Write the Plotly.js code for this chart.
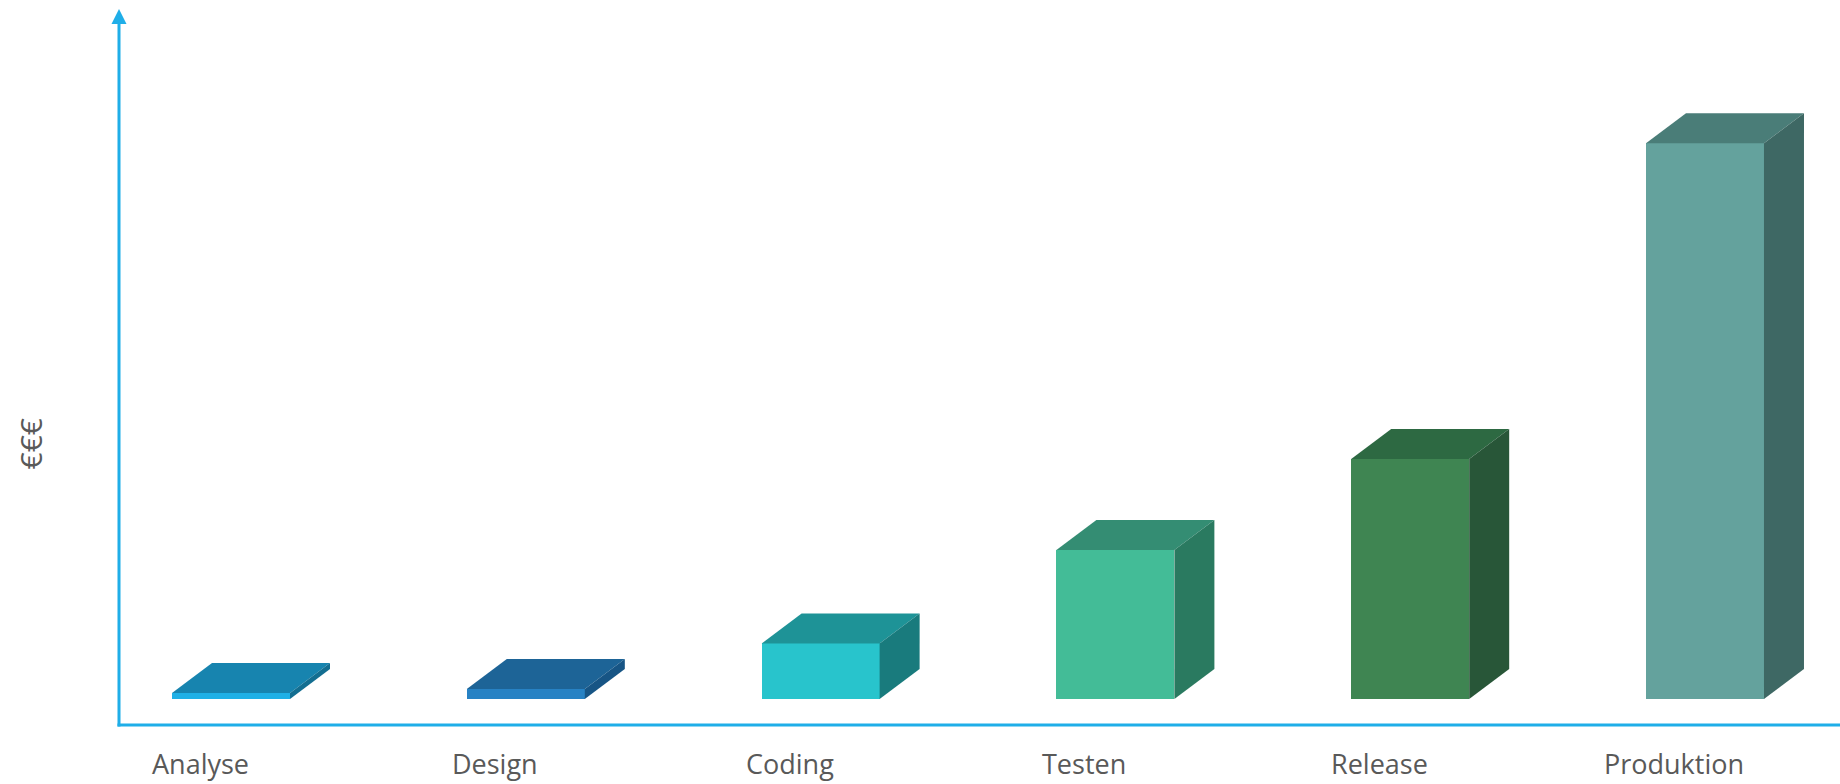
<!DOCTYPE html>
<html>
<head>
<meta charset="utf-8">
<script src="https://cdn.plot.ly/plotly-3.0.1.min.js"></script>
<style>
html,body{margin:0;padding:0;background:#fff;}
#chart{width:1840px;height:784px;}
</style>
</head>
<body>
<div id="chart"></div>
<script>
// ---- data ----
const categories = ['Analyse', 'Design', 'Coding', 'Testen', 'Release', 'Produktion'];
const values = [1.1, 1.8, 10, 26.8, 43.2, 100];
const frontColors = ['#1FB0E6', '#2782C4', '#28C4CC', '#43BC97', '#3F8552', '#64A29D'];
const topColors   = ['#1784AF', '#1D6497', '#1E9397', '#348D73', '#2D6942', '#4A7D78'];
const sideColors  = ['#136E91', '#175585', '#197B7D', '#2A7A60', '#285638', '#3E6864'];
const yTitle = '€€€';

// ---- layout geometry ----
const W = 1840, H = 784;
const M = {l: 119, r: 0, t: 9, b: 59};
const plotW = W - M.l - M.r, plotH = H - M.t - M.b;
const xRange = [-0.38, 5.458];
const yRange = [-4.68, 124.17];
const pxPerX = plotW / (xRange[1] - xRange[0]);
const pxPerY = plotH / (yRange[1] - yRange[0]);
const barW = 118 / pxPerX;
const dx = 40 / pxPerX;   // depth offset (40px right)
const dy = 30 / pxPerY;   // depth offset (30px up)
const axisColor = '#1FAEE8';
const textColor = '#595959';

const xs = categories.map((c, i) => i);

const traces = [];
// front faces as bars
traces.push({
  type: 'bar', x: xs, y: values, base: 0, width: barW,
  marker: {color: frontColors, line: {width: 0}},
  hoverinfo: 'skip', showlegend: false
});
// top & side faces
values.forEach((v, i) => {
  const x0 = xs[i] - barW / 2, x1 = xs[i] + barW / 2;
  traces.push({
    type: 'scatter', mode: 'lines', fill: 'toself',
    x: [x0, x1, x1 + dx, x0 + dx, x0],
    y: [v, v, v + dy, v + dy, v],
    fillcolor: topColors[i], line: {width: 0, color: topColors[i]},
    hoverinfo: 'skip', showlegend: false
  });
  traces.push({
    type: 'scatter', mode: 'lines', fill: 'toself',
    x: [x1, x1 + dx, x1 + dx, x1, x1],
    y: [0, dy, v + dy, v, 0],
    fillcolor: sideColors[i], line: {width: 0, color: sideColors[i]},
    hoverinfo: 'skip', showlegend: false
  });
});

const annotations = categories.map((c, i) => ({
  x: xs[i], xref: 'x', xshift: -31,
  y: -(763 - (H - M.b)) / plotH, yref: 'paper', yanchor: 'middle',
  text: c, showarrow: false,
  font: {family: 'Open Sans, sans-serif', size: 27, color: textColor}
}));
annotations.push({
  x: (29.5 - M.l) / plotW, xref: 'paper', xanchor: 'center',
  y: ((H - M.b) - 444) / plotH, yref: 'paper', yanchor: 'middle',
  text: yTitle, textangle: -90, showarrow: false,
  font: {family: 'Open Sans, sans-serif', size: 30, color: textColor}
});

const layout = {
  width: W, height: H,
  margin: M,
  paper_bgcolor: '#ffffff', plot_bgcolor: '#ffffff',
  showlegend: false,
  bargap: 0,
  xaxis: {
    range: xRange, showgrid: false, zeroline: false, showticklabels: false,
    ticks: '', showline: false, fixedrange: true
  },
  yaxis: {
    range: yRange, showgrid: false, zeroline: false, showticklabels: false,
    ticks: '', showline: false, fixedrange: true
  },
  shapes: [
    {type: 'line', xref: 'paper', yref: 'paper', x0: -1.5 / plotW, x1: 1, y0: 0, y1: 0,
     line: {color: axisColor, width: 3}},
    {type: 'line', xref: 'paper', yref: 'paper', x0: 0, x1: 0, y0: -1.5 / plotH, y1: 1 - 14 / plotH,
     line: {color: axisColor, width: 3}},
    {type: 'path', xref: 'paper', yref: 'paper', xsizemode: 'pixel', ysizemode: 'pixel',
     xanchor: 0, yanchor: 1, path: 'M -7.5 -15 L 7.5 -15 L 0 0 Z',
     fillcolor: axisColor, line: {width: 0}}
  ],
  annotations: annotations
};

Plotly.newPlot('chart', traces, layout, {displayModeBar: false, staticPlot: true});
</script>
</body>
</html>
